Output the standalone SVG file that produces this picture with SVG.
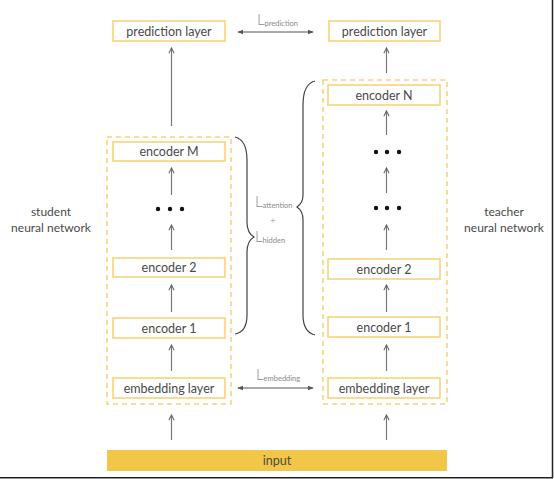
<svg xmlns="http://www.w3.org/2000/svg" width="554" height="479" viewBox="0 0 554 479">
<defs>
<marker id="up" viewBox="0 0 8 8" refX="7" refY="4" markerWidth="7" markerHeight="7" markerUnits="userSpaceOnUse" orient="auto">
<path d="M1,1 L7,4 L1,7" fill="none" stroke="#666" stroke-width="1.2"/>
</marker>
<marker id="tri" viewBox="0 0 8 8" refX="7" refY="4" markerWidth="6" markerHeight="6" markerUnits="userSpaceOnUse" orient="auto-start-reverse">
<path d="M0,0.8 L8,4 L0,7.2 Z" fill="#555"/>
</marker>
</defs>
<style>
.box{fill:#fff;stroke:#f5d47c;stroke-width:1.6}
.dash{fill:none;stroke:#f5d47c;stroke-width:1.6;stroke-dasharray:5,4}
.t{font-family:Lato,"Open Sans",sans-serif;font-size:12.5px;fill:#4a4a4a;text-anchor:middle}
.side{font-family:Lato,"Open Sans",sans-serif;font-size:12px;fill:#4a4a4a;text-anchor:middle}
.L{font-family:Lato,"Open Sans",sans-serif;font-size:15px;font-weight:300;fill:#8a8a8a}
.sub{font-size:7.5px;font-weight:400}
.ar{stroke:#777;stroke-width:1.2;fill:none;marker-end:url(#up)}
.dbl{stroke:#555;stroke-width:1.1;fill:none;marker-start:url(#tri);marker-end:url(#tri)}
.br{stroke:#444;stroke-width:1.2;fill:none}
.dot{fill:#111}
</style>
<rect width="554" height="479" fill="#fff"/>
<line x1="552.5" y1="0" x2="552.5" y2="478" stroke="#222" stroke-width="1.5"/>
<line x1="0" y1="477.8" x2="553" y2="477.8" stroke="#222" stroke-width="1.5"/>

<g id="student-frame"><rect class="dash" x="107" y="137" width="124" height="267"/></g>
<g id="teacher-frame"><rect class="dash" x="323" y="80" width="124" height="324"/></g>

<g id="connectors">
<line class="ar" x1="171.5" y1="126" x2="171.5" y2="48"/>
<line class="ar" x1="386.5" y1="73" x2="386.5" y2="48"/>
<line class="ar" x1="171.5" y1="195" x2="171.5" y2="168"/>
<line class="ar" x1="171.5" y1="250" x2="171.5" y2="225"/>
<line class="ar" x1="171.5" y1="312" x2="171.5" y2="285"/>
<line class="ar" x1="171.5" y1="371" x2="171.5" y2="345"/>
<line class="ar" x1="171.5" y1="440" x2="171.5" y2="415"/>
<line class="ar" x1="386.5" y1="135" x2="386.5" y2="111"/>
<line class="ar" x1="386.5" y1="193" x2="386.5" y2="168"/>
<line class="ar" x1="386.5" y1="250" x2="386.5" y2="225"/>
<line class="ar" x1="386.5" y1="312" x2="386.5" y2="285"/>
<line class="ar" x1="386.5" y1="371" x2="386.5" y2="345"/>
<line class="ar" x1="386.5" y1="440" x2="386.5" y2="415"/>
<line class="dbl" x1="238" y1="32" x2="313" y2="32"/>
<line class="dbl" x1="238" y1="388" x2="313" y2="388"/>
<path class="br" d="M235,137 Q247,140 247,160 L247,222 Q247,233 254,237 Q247,241 247,252 L247,315 Q247,332 235,334"/>
<path class="br" d="M315,81 Q303,84 303,105 L303,195 Q303,203 297,207 Q303,211 303,220 L303,315 Q303,332 315,335"/>
</g>

<g id="L-prediction"><text class="L" x="257" y="24.5">L<tspan class="sub" dy="1">prediction</tspan></text></g>
<g id="L-embedding"><text class="L" x="256" y="380">L<tspan class="sub" dy="1">embedding</tspan></text></g>
<g id="L-attention-hidden">
<text class="L" x="255" y="207">L<tspan class="sub" dy="1">attention</tspan></text>
<text class="L" x="273" y="224" text-anchor="middle" style="font-size:10px">+</text>
<text class="L" x="255" y="242">L<tspan class="sub" dy="1">hidden</tspan></text>
</g>

<g id="s-pred"><rect class="box" x="113" y="21" width="112" height="20"/><text class="t" x="169" y="35.5">prediction layer</text></g>
<g id="t-pred"><rect class="box" x="329" y="21" width="111" height="20"/><text class="t" x="384.5" y="35.5">prediction layer</text></g>

<g id="s-encM"><rect class="box" x="113" y="142" width="112" height="19"/><text class="t" x="169" y="156">encoder M</text></g>
<g id="s-dots"><circle class="dot" cx="158" cy="209" r="2.2"/><circle class="dot" cx="170" cy="209" r="2.2"/><circle class="dot" cx="182" cy="209" r="2.2"/></g>
<g id="s-enc2"><rect class="box" x="113" y="258" width="112" height="19"/><text class="t" x="169" y="272">encoder 2</text></g>
<g id="s-enc1"><rect class="box" x="113" y="318" width="112" height="20"/><text class="t" x="169" y="332.5">encoder 1</text></g>
<g id="s-emb"><rect class="box" x="113" y="378" width="112" height="20"/><text class="t" x="169" y="392.5">embedding layer</text></g>

<g id="t-encN"><rect class="box" x="328" y="85" width="112" height="20"/><text class="t" x="384" y="99.5">encoder N</text></g>
<g id="t-dots1"><circle class="dot" cx="376" cy="152" r="2.2"/><circle class="dot" cx="387" cy="152" r="2.2"/><circle class="dot" cx="399" cy="152" r="2.2"/></g>
<g id="t-dots2"><circle class="dot" cx="376" cy="208" r="2.2"/><circle class="dot" cx="387" cy="208" r="2.2"/><circle class="dot" cx="399" cy="208" r="2.2"/></g>
<g id="t-enc2"><rect class="box" x="328" y="259" width="112" height="20"/><text class="t" x="384" y="273.5">encoder 2</text></g>
<g id="t-enc1"><rect class="box" x="328" y="317" width="112" height="20"/><text class="t" x="384" y="331.5">encoder 1</text></g>
<g id="t-emb"><rect class="box" x="328" y="378" width="112" height="20"/><text class="t" x="384" y="392.5">embedding layer</text></g>

<g id="input"><rect x="107" y="450" width="340" height="21" fill="#f2c647"/><text class="t" x="277" y="465">input</text></g>

<g id="student-label"><text class="side" x="51" y="216">student</text><text class="side" x="51" y="232">neural network</text></g>
<g id="teacher-label"><text class="side" x="504" y="216">teacher</text><text class="side" x="504" y="232">neural network</text></g>
</svg>
